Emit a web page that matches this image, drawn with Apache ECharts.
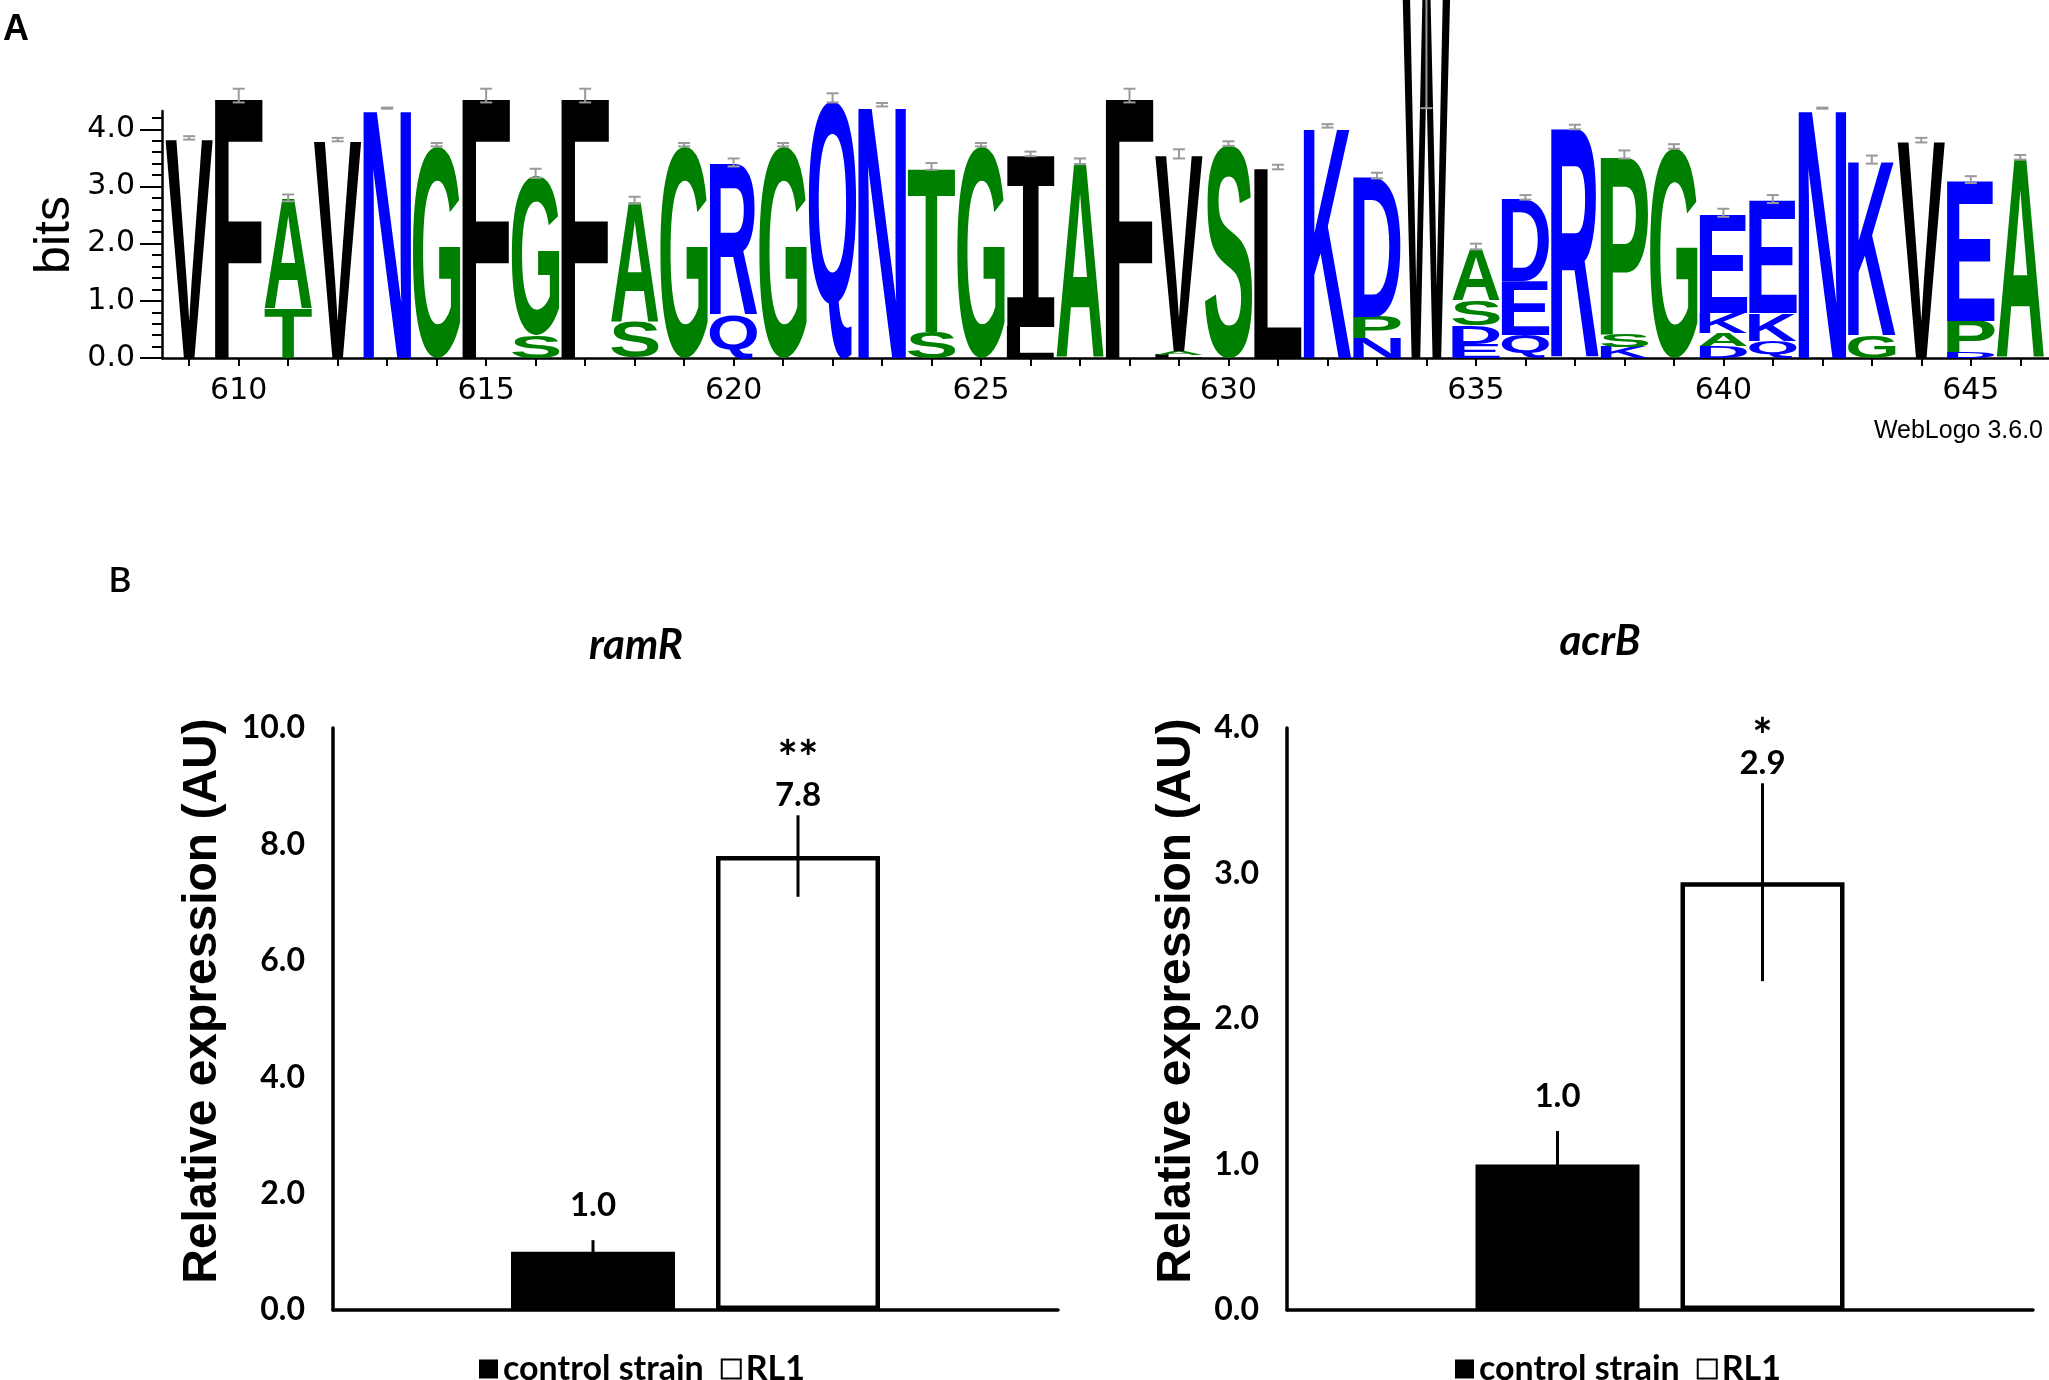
<!DOCTYPE html>
<html lang="en">
<head>
  <meta charset="UTF-8">
  <meta name="viewport" content="width=device-width, initial-scale=1.0">
  <title>Sequence logo and relative expression</title>
  <style>
    #container, html, body{
      margin: 0;
      padding: 0;
      height: 100%;
      width: 100%;
      background: #fff;
    }
  </style>
</head>
<body>
  <div id="container"></div>
</body>
<script src="https://cdn.jsdelivr.net/npm/echarts@6/dist/echarts.min.js"></script>
<script>
  // ---- panel A: sequence logo (letters bottom -> top, heights in bits) ----
  var logoPositions = [609, 610, 611, 612, 613, 614, 615, 616, 617, 618, 619, 620, 621, 622, 623, 624, 625, 626, 627,
    628, 629, 630, 631, 632, 633, 634, 635, 636, 637, 638, 639, 640, 641, 642, 643, 644, 645, 646]
  var logoStacks = [
    [['V', 3.82]],
    [['F', 4.56]],
    [['T', 0.86], ['A', 1.91]],
    [['V', 3.79]],
    [['N', 4.34]],
    [['G', 3.70]],
    [['F', 4.56]],
    [['S', 0.40], ['G', 2.80]],
    [['F', 4.56]],
    [['S', 0.63], ['A', 2.10]],
    [['G', 3.70]],
    [['Q', 0.75], ['R', 2.64]],
    [['G', 3.70]],
    [['Q', 4.52]],
    [['N', 4.40]],
    [['S', 0.45], ['T', 2.87]],
    [['G', 3.70]],
    [['L', 0.55], ['I', 2.99]],
    [['A', 3.41]],
    [['F', 4.56]],
    [['L', 0.06], ['A', 0.06], ['V', 3.42]],
    [['S', 3.72]],
    [['L', 3.31]],
    [['K', 4.03]],
    [['N', 0.35], ['P', 0.37], ['D', 2.44]],
    [['W', 6.30]],
    [['E', 0.25], ['D', 0.32], ['S', 0.44], ['A', 0.91]],
    [['Q', 0.41], ['E', 0.94], ['D', 1.43]],
    [['R', 4.01]],
    [['K', 0.19], ['S', 0.22], ['P', 3.12]],
    [['G', 3.67]],
    [['D', 0.20], ['A', 0.23], ['K', 0.36], ['E', 1.72]],
    [['Q', 0.30], ['K', 0.48], ['E', 1.97]],
    [['N', 4.34]],
    [['G', 0.40], ['K', 3.04]],
    [['V', 3.78]],
    [['D', 0.10], ['P', 0.55], ['E', 2.44]],
    [['A', 3.48]]
  ]
  var logoErrors = [0.03, 0.12, 0.06, 0.03, 0.01, 0.03, 0.12, 0.08, 0.12, 0.06, 0.03, 0.07, 0.03, 0.08, 0.03, 0.06, 0.03,
    0.04, 0.05, 0.12, 0.08, 0.04, 0.04, 0.03, 0.05, 1.96, 0.05, 0.04, 0.04, 0.07, 0.04, 0.07, 0.07, 0.01, 0.07, 0.04, 0.06, 0.04]
  var logoTickLabels = [610, 615, 620, 625, 630, 635, 640, 645]
  var bitsTicks = [0, 1, 2, 3, 4]
  var bitsMinorTicks = [0.2, 0.4, 0.6, 0.8, 1.2, 1.4, 1.6, 1.8, 2.2, 2.4, 2.6, 2.8, 3.2, 3.4, 3.6, 3.8, 4.2]

  // ---- panel B: relative expression ----
  var groups = ['control strain', 'RL1']
  var ramRValues = [1.0, 7.8]
  var ramRErrors = [0.2, 0.7]
  var ramRMarks = ['', '**']
  var acrBValues = [1.0, 2.94]
  var acrBErrors = [0.23, 0.68]
  var acrBMarks = ['', '*']

  var LETTER_W = 0.96
  var BAR_W = 164
  var BAR_GAP = '25%'
  var LABEL_GAP = [35, 20]
  var NUM_FONT = '"DejaVu Sans", sans-serif'
  var B_FONT = 'Lato, "Open Sans", sans-serif'

  function letterColor (ch) {
    if ('RKDENQ'.indexOf(ch) >= 0) return '#0000ff'
    if ('SGHTAP'.indexOf(ch) >= 0) return '#008000'
    return '#000000'
  }

  // glyph boxes, measured once with the same baseline zrender uses ('middle')
  var measureCtx = document.createElement('canvas').getContext('2d')
  var glyphCache = {}
  function glyph (ch) {
    if (glyphCache[ch]) return glyphCache[ch]
    var font = ch === 'I' ? 'bold 200px "DejaVu Sans Mono", monospace' : 'bold 200px "Liberation Sans", Arial, sans-serif'
    measureCtx.font = font
    measureCtx.textAlign = 'center'
    measureCtx.textBaseline = 'middle'
    var m = measureCtx.measureText(ch)
    glyphCache[ch] = {
      font: font,
      left: m.actualBoundingBoxLeft,
      right: m.actualBoundingBoxRight,
      top: m.actualBoundingBoxAscent,
      bottom: m.actualBoundingBoxDescent
    }
    return glyphCache[ch]
  }

  window.onload = function () {
    var logoItems = []
    logoStacks.forEach(function (stack, i) {
      var base = 0
      stack.forEach(function (s) {
        logoItems.push({ ch: s[0], value: [logoPositions[i], base, base + s[1]] })
        base += s[1]
      })
    })
    var logoTops = logoStacks.map(function (stack, i) {
      var sum = 0
      stack.forEach(function (s) { sum += s[1] })
      return [logoPositions[i], sum, logoErrors[i]]
    })

    var errorBarRender = function (marks, markGap) {
      return function (params, api) {
        var i = api.value(3)
        var layout = api.barLayout({ count: 2, barWidth: BAR_W, barGap: BAR_GAP })
        var v = api.value(1)
        var e = api.value(2)
        var lo = api.coord([api.value(0), v - e])
        var hi = api.coord([api.value(0), v + e])
        var x = lo[0] + layout[i].offsetCenter
        var labelY = hi[1] - LABEL_GAP[i]
        return {
          type: 'group',
          children: [
            { type: 'line', shape: { x1: x, y1: lo[1], x2: x, y2: hi[1] }, style: { stroke: '#000', lineWidth: 3 } },
            {
              type: 'text', x: x, y: labelY,
              style: { text: v.toFixed(1), font: 'bold 33px ' + B_FONT, fill: '#000', textAlign: 'center', textVerticalAlign: 'middle' }
            },
            {
              type: 'text', x: x, y: labelY - markGap,
              style: { text: marks[i], font: 'bold 48px ' + B_FONT, fill: '#000', textAlign: 'center', textVerticalAlign: 'middle' }
            }
          ]
        }
      }
    }

    var barAxisY = function (grid, max, interval) {
      return {
        gridIndex: grid, type: 'value', min: 0, max: max, interval: interval,
        axisLine: { show: true, lineStyle: { color: '#000', width: 3.5 } },
        axisTick: { show: false },
        splitLine: { show: false },
        axisLabel: {
          margin: 28, color: '#000', fontFamily: B_FONT, fontWeight: 'bold', fontSize: 32,
          formatter: function (v) { return v.toFixed(1) }
        }
      }
    }
    var barAxisX = function (grid) {
      return {
        gridIndex: grid, type: 'category', data: [''],
        axisLine: { show: true, lineStyle: { color: '#000', width: 3.5 } },
        axisTick: { show: false },
        axisLabel: { show: false }
      }
    }
    var legendItems = [
      { name: groups[0], icon: 'rect', itemStyle: { color: '#000' } },
      { name: groups[1], icon: 'rect', itemStyle: { color: '#fff', borderColor: '#000', borderWidth: 2 } }
    ]
    var legendBase = {
      data: legendItems, top: 1347, itemWidth: 19, itemHeight: 19, itemGap: 17, selectedMode: false,
      textStyle: { color: '#000', fontFamily: B_FONT, fontWeight: 'bold', fontSize: 34 }
    }

    var charts = echarts.init(document.querySelector('#container'))
    var option = {
      animation: false,
      grid: [
        { left: 162, top: 111, width: 1887, height: 247 },
        { left: 162, top: 111, width: 1887, height: 247 },
        { left: 333, top: 728, width: 725, height: 582 },
        { left: 1287, top: 728, width: 746, height: 582 }
      ],
      xAxis: [
        {
          gridIndex: 0, type: 'value', min: 608.45, max: 646.58,
          axisLine: { show: true, lineStyle: { color: '#000', width: 2.5 } },
          axisTick: { show: true, inside: false, length: 8, customValues: logoPositions, lineStyle: { color: '#000', width: 2 } },
          axisLabel: { customValues: logoTickLabels, margin: 18, color: '#000', fontFamily: NUM_FONT, fontSize: 30 },
          splitLine: { show: false }
        },
        { gridIndex: 1, type: 'value', min: 608.45, max: 646.58, show: false },
        barAxisX(2),
        barAxisX(3)
      ],
      yAxis: [
        {
          gridIndex: 0, type: 'value', min: 0, max: 4.32,
          axisLine: { show: true, lineStyle: { color: '#000', width: 2.5 } },
          axisTick: { show: true, length: 22, customValues: bitsTicks, lineStyle: { color: '#000', width: 2 } },
          axisLabel: {
            customValues: bitsTicks, margin: 27, color: '#000', fontFamily: NUM_FONT, fontSize: 30,
            formatter: function (v) { return v.toFixed(1) }
          },
          splitLine: { show: false }
        },
        {
          gridIndex: 1, type: 'value', min: 0, max: 4.32,
          axisLine: { show: false },
          axisTick: { show: true, length: 10, customValues: bitsMinorTicks, lineStyle: { color: '#000', width: 2 } },
          axisLabel: { show: false },
          splitLine: { show: false }
        },
        barAxisY(2, 10, 2),
        barAxisY(3, 4, 1)
      ],
      legend: [
        Object.assign({ left: 474 }, legendBase),
        Object.assign({ left: 1450 }, legendBase)
      ],
      graphic: [
        { type: 'text', x: 16, y: 30, style: { text: 'A', font: 'bold 36px "Liberation Sans", Arial', fill: '#000', textAlign: 'center', textVerticalAlign: 'middle' } },
        { type: 'text', x: 55, y: 235, rotation: Math.PI / 2, style: { text: 'bits', font: '50px "Liberation Sans", Arial', fill: '#000', textAlign: 'center', textVerticalAlign: 'middle' } },
        { type: 'text', x: 2043, y: 431, style: { text: 'WebLogo 3.6.0', font: '25px "Liberation Sans", Arial', fill: '#000', textAlign: 'right', textVerticalAlign: 'middle' } },
        { type: 'text', x: 120, y: 581, style: { text: 'B', font: '600 35px ' + B_FONT, fill: '#000', textAlign: 'center', textVerticalAlign: 'middle' } },
        { type: 'text', x: 636, y: 645, style: { text: 'ramR', font: 'italic bold 42px ' + B_FONT, fill: '#000', textAlign: 'center', textVerticalAlign: 'middle' } },
        { type: 'text', x: 1600, y: 641, style: { text: 'acrB', font: 'italic bold 42px ' + B_FONT, fill: '#000', textAlign: 'center', textVerticalAlign: 'middle' } },
        { type: 'text', x: 203, y: 1001, rotation: Math.PI / 2, style: { text: 'Relative expression (AU)', font: 'bold 48px "Liberation Sans", Arial', fill: '#000', textAlign: 'center', textVerticalAlign: 'middle' } },
        { type: 'text', x: 1177, y: 1001, rotation: Math.PI / 2, style: { text: 'Relative expression (AU)', font: 'bold 48px "Liberation Sans", Arial', fill: '#000', textAlign: 'center', textVerticalAlign: 'middle' } }
      ],
      series: [
        // logo letters, each glyph stretched into its box
        {
          type: 'custom', xAxisIndex: 0, yAxisIndex: 0, clip: false, z: 2,
          data: logoItems.map(function (d) { return d.value }),
          renderItem: function (params, api) {
            var ch = logoItems[params.dataIndex].ch
            var g = glyph(ch)
            var pos = api.value(0)
            var p0 = api.coord([pos - LETTER_W / 2, api.value(2)])
            var p1 = api.coord([pos + LETTER_W / 2, api.value(1)])
            var sx = (p1[0] - p0[0]) / (g.left + g.right)
            var sy = (p1[1] - p0[1]) / (g.top + g.bottom)
            return {
              type: 'text',
              x: p0[0] + sx * g.left,
              y: p0[1] + sy * g.top,
              scaleX: sx,
              scaleY: sy,
              style: { text: ch, font: g.font, fill: letterColor(ch), textAlign: 'center', textVerticalAlign: 'middle' }
            }
          }
        },
        // small-sample error bars on the stacks
        {
          type: 'custom', xAxisIndex: 0, yAxisIndex: 0, clip: false, z: 3,
          data: logoTops,
          renderItem: function (params, api) {
            var c = api.value(1) + 0.03
            var e = api.value(2)
            var a = api.coord([api.value(0), c - e])
            var b = api.coord([api.value(0), c + e])
            var st = { stroke: '#9a9a9a', lineWidth: 2 }
            return {
              type: 'group',
              children: [
                { type: 'line', shape: { x1: a[0], y1: a[1], x2: b[0], y2: b[1] }, style: st },
                { type: 'line', shape: { x1: a[0] - 6, y1: a[1], x2: a[0] + 6, y2: a[1] }, style: st },
                { type: 'line', shape: { x1: b[0] - 6, y1: b[1], x2: b[0] + 6, y2: b[1] }, style: st }
              ]
            }
          }
        },
        // ramR
        { type: 'bar', name: groups[0], xAxisIndex: 2, yAxisIndex: 2, data: [ramRValues[0]], barWidth: BAR_W, barGap: BAR_GAP, itemStyle: { color: '#000' } },
        { type: 'bar', name: groups[1], xAxisIndex: 2, yAxisIndex: 2, data: [ramRValues[1]], barWidth: BAR_W, barGap: BAR_GAP, itemStyle: { color: '#fff', borderColor: '#000', borderWidth: 4.5 } },
        {
          type: 'custom', xAxisIndex: 2, yAxisIndex: 2, clip: false, z: 5,
          data: ramRValues.map(function (v, i) { return [0, v, ramRErrors[i], i] }),
          renderItem: errorBarRender(ramRMarks, 36)
        },
        // acrB
        { type: 'bar', name: groups[0], xAxisIndex: 3, yAxisIndex: 3, data: [acrBValues[0]], barWidth: BAR_W, barGap: BAR_GAP, itemStyle: { color: '#000' } },
        { type: 'bar', name: groups[1], xAxisIndex: 3, yAxisIndex: 3, data: [acrBValues[1]], barWidth: BAR_W, barGap: BAR_GAP, itemStyle: { color: '#fff', borderColor: '#000', borderWidth: 4.5 } },
        {
          type: 'custom', xAxisIndex: 3, yAxisIndex: 3, clip: false, z: 5,
          data: acrBValues.map(function (v, i) { return [0, v, acrBErrors[i], i] }),
          renderItem: errorBarRender(acrBMarks, 26)
        }
      ]
    }
    charts.setOption(option)
    window.onresize = charts.resize
  }
</script>
</html>
